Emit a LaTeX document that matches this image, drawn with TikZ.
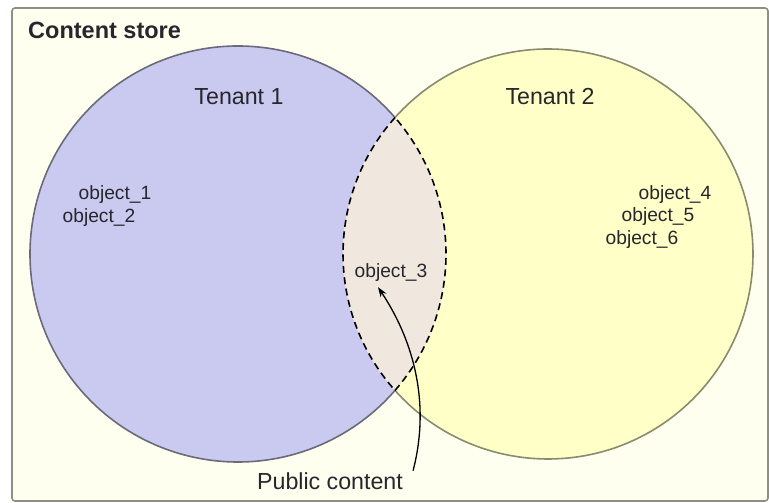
\documentclass[tikz,border=0pt]{standalone}
\usepackage{fontspec}
\setmainfont{Liberation Sans}
\usetikzlibrary{arrows.meta,calc}
\definecolor{bgcream}{HTML}{FFFFF0}
\definecolor{boxline}{HTML}{8E8E84}
\definecolor{oneFill}{HTML}{CACAF0}
\definecolor{twoFill}{HTML}{FFFFC8}
\definecolor{lensFill}{HTML}{F0E8DE}
\definecolor{oneLine}{HTML}{6A6A7A}
\definecolor{twoLine}{HTML}{8A8A6E}
\definecolor{txt}{HTML}{26262C}
\begin{document}
\begin{tikzpicture}[x=1pt,y=1pt,
  lbl/.style={inner sep=0pt,anchor=base,text=txt},
  objtxt/.style={lbl,font=\fontsize{19.2}{22}\selectfont},
  bigtxt/.style={lbl,font=\fontsize{23.2}{26}\selectfont},
  lensdash/.style={draw=black,line width=1.6pt,dash pattern=on 7pt off 4.5pt},
  arrowline/.style={draw=black,line width=1.3pt,-{Stealth[length=10pt,width=7pt]}}]
\useasboundingbox (0,0) rectangle (769,503);
\fill[white] (0,0) rectangle (769,503);
\draw[boxline,line width=1.6pt,fill=bgcream,rounded corners=3pt] (12,2) rectangle (768,495);
% circles
\coordinate (c1) at (238,249);
\coordinate (c2) at (548,249);
\fill[oneFill] (c1) circle (208pt);
\fill[twoFill] (c2) circle (205pt);
\begin{scope}
  \clip (c1) circle (208pt);
  \fill[lensFill] (c2) circle (205pt);
\end{scope}
% solid outer arcs
\draw[oneLine,line width=1.6pt] ($(c1)+(41:208pt)$) arc[start angle=41,end angle=319,radius=208pt];
\draw[twoLine,line width=1.6pt] ($(c2)+(-138.3:205pt)$) arc[start angle=-138.3,end angle=138.3,radius=205pt];
% dashed lens arcs
\draw[lensdash] ($(c1)+(-41:208pt)$) arc[start angle=-41,end angle=41,radius=208pt];
\draw[lensdash] ($(c2)+(138.3:205pt)$) arc[start angle=138.3,end angle=221.7,radius=205pt];
% texts
\node[lbl,anchor=base west,font=\bfseries\fontsize{23.5}{26}\selectfont] (store) at (28,464) {Content store};
\node[bigtxt] (t1) at (239,398) {Tenant 1};
\node[bigtxt] (t2) at (550,398) {Tenant 2};
\node[objtxt] (o1) at (115,303) {object\_1};
\node[objtxt] (o2) at (99,280) {object\_2};
\node[objtxt] (o4) at (675,303) {object\_4};
\node[objtxt] (o5) at (658,281) {object\_5};
\node[objtxt] (o6) at (642,258) {object\_6};
\node[objtxt] (o3) at (391,225) {object\_3};
\node[bigtxt] (pub) at (330,13) {Public content};
% arrow
\coordinate (pubtail) at ($(pub.east)+(10,11)$);
\coordinate (o3tip) at ($(o3.south)+(-13,-5)$);
\draw[arrowline] (pubtail) .. controls (432,105) and (410,168) .. (o3tip);
\end{tikzpicture}
\end{document}
